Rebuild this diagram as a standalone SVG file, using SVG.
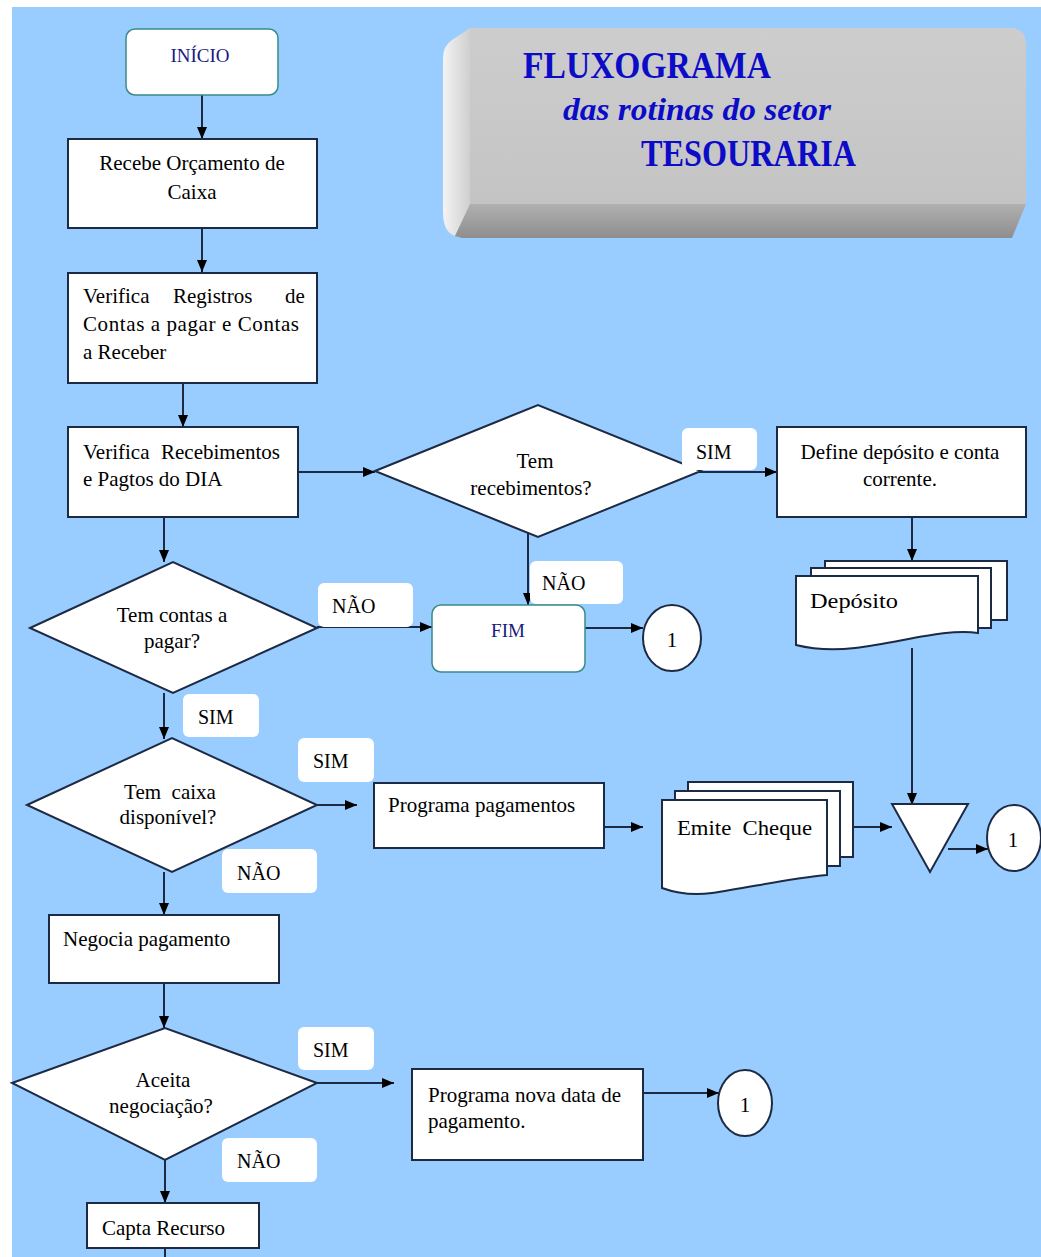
<svg xmlns="http://www.w3.org/2000/svg" width="1041" height="1257" viewBox="0 0 1041 1257">
<defs>
<style>
.box{fill:#fff;stroke:#1c2a44;stroke-width:2}
.term{fill:#fff;stroke:#3a8a8a;stroke-width:1.5}
.t{font-family:"Liberation Serif","Times New Roman",serif;font-size:21px;fill:#000}
.tc{text-anchor:middle}
.lbl{fill:#fff}
.lt{font-family:"Liberation Serif","Times New Roman",serif;font-size:20px;fill:#000}
.nav{font-family:"Liberation Serif","Times New Roman",serif;font-size:19px;fill:#1a1a80;text-anchor:middle}
.title{font-family:"Liberation Serif","Times New Roman",serif;font-weight:bold;fill:#0c0cc8}
.con{stroke:#1c2a44;stroke-width:2;fill:none;marker-end:url(#ah)}
</style>
<marker id="ah" viewBox="0 0 12 10" refX="12" refY="5" markerWidth="6" markerHeight="5" orient="auto" markerUnits="strokeWidth">
<path d="M0,0 L12,5 L0,10 Z" fill="#000"/>
</marker>
<linearGradient id="leftFace" x1="0" y1="0" x2="1" y2="0">
<stop offset="0" stop-color="#f4f4f4"/>
<stop offset="1" stop-color="#cfcfcf"/>
</linearGradient>
<linearGradient id="bottomFace" x1="0" y1="0" x2="0" y2="1">
<stop offset="0" stop-color="#b0b0b0"/>
<stop offset="1" stop-color="#8e8e8e"/>
</linearGradient>
<linearGradient id="frontFace" x1="0" y1="0" x2="0" y2="1">
<stop offset="0" stop-color="#cdcdcd"/>
<stop offset="1" stop-color="#c4c4c4"/>
</linearGradient>
</defs>

<rect x="0" y="0" width="1041" height="1257" fill="#ffffff"/>
<rect x="12" y="7" width="1029" height="1250" fill="#99CCFF"/>

<g id="title">
<path d="M443,212 L443,58 Q443,46 452,40 L470,28 L470,206 L455,236 Q443,232 443,212 Z" fill="url(#leftFace)"/>
<path d="M455,236 L470,204 L1026,204 L1012,238 L462,238 Z" fill="url(#bottomFace)"/>
<path d="M470,28 L1010,28 Q1026,28 1026,44 L1026,204 L470,204 Z" fill="url(#frontFace)"/>
<text class="title" x="523" y="78" font-size="37" textLength="248" lengthAdjust="spacingAndGlyphs">FLUXOGRAMA</text>
<text class="title" x="563" y="120" font-size="32" font-style="italic" textLength="268" lengthAdjust="spacingAndGlyphs">das rotinas do setor</text>
<text class="title" x="641" y="166" font-size="37" textLength="215" lengthAdjust="spacingAndGlyphs">TESOURARIA</text>
</g>

<g id="connectors">
<line class="con" x1="202" y1="95" x2="202" y2="139"/>
<line class="con" x1="202" y1="228" x2="202" y2="272"/>
<line class="con" x1="183" y1="383" x2="183" y2="427"/>
<line class="con" x1="298" y1="472" x2="375" y2="472"/>
<line class="con" x1="697" y1="472" x2="777" y2="472"/>
<line class="con" x1="528" y1="529" x2="528" y2="605"/>
<line class="con" x1="585" y1="628" x2="643" y2="628"/>
<line class="con" x1="912" y1="517" x2="912" y2="561"/>
<line class="con" x1="912" y1="648" x2="912" y2="805"/>
<line class="con" x1="164" y1="517" x2="164" y2="562"/>
<line class="con" x1="317" y1="627" x2="432" y2="627"/>
<line class="con" x1="164" y1="693" x2="164" y2="739"/>
<line class="con" x1="317" y1="805" x2="357" y2="805"/>
<line class="con" x1="604" y1="827" x2="643" y2="827"/>
<line class="con" x1="853" y1="827" x2="892" y2="827"/>
<line class="con" x1="948" y1="849" x2="988" y2="849"/>
<line class="con" x1="164" y1="872" x2="164" y2="915"/>
<line class="con" x1="164" y1="983" x2="164" y2="1028"/>
<line class="con" x1="317" y1="1083" x2="394" y2="1083"/>
<line class="con" x1="643" y1="1093" x2="719" y2="1093"/>
<line class="con" x1="165" y1="1160" x2="165" y2="1203"/>
<line x1="165" y1="1248" x2="165" y2="1257" stroke="#1c2a44" stroke-width="2"/>
</g>

<g id="inicio">
<rect class="term" x="126" y="29" width="152" height="66" rx="9"/>
<text class="nav" x="200" y="62">INÍCIO</text>
</g>

<g id="recebe-orcamento">
<rect class="box" x="68" y="139" width="249" height="89"/>
<text class="t tc" x="192" y="170">Recebe Orçamento de</text>
<text class="t tc" x="192" y="199">Caixa</text>
</g>

<g id="verifica-registros">
<rect class="box" x="68" y="273" width="249" height="110"/>
<text class="t"><tspan x="83" y="303">Verifica</tspan><tspan x="173" y="303">Registros</tspan><tspan x="285" y="303">de</tspan></text>
<text class="t" x="83" y="331" textLength="216" lengthAdjust="spacing">Contas a pagar e Contas</text>
<text class="t" x="83" y="359">a Receber</text>
</g>

<g id="verifica-recebimentos">
<rect class="box" x="68" y="427" width="230" height="90"/>
<text class="t"><tspan x="83" y="459">Verifica</tspan><tspan x="161" y="459">Recebimentos</tspan></text>
<text class="t" x="83" y="486">e Pagtos do DIA</text>
</g>

<g id="tem-recebimentos">
<polygon class="box" points="375,471 538,405 701,471 538,537"/>
<text class="t tc" x="535" y="468">Tem</text>
<text class="t tc" x="531" y="495">recebimentos?</text>
</g>

<g id="define-deposito">
<rect class="box" x="777" y="427" width="249" height="90"/>
<text class="t tc" x="900" y="459">Define depósito e conta</text>
<text class="t tc" x="900" y="486">corrente.</text>
</g>

<g id="deposito">
<rect class="box" x="825" y="561" width="182" height="59"/>
<rect class="box" x="811" y="568" width="180" height="60"/>
<path class="box" d="M796,576 H978 V633 C945,628 900,643 855,648 C828,651 808,648 796,645 Z"/>
<text class="t" x="810" y="608" font-size="24" textLength="88" lengthAdjust="spacingAndGlyphs">Depósito</text>
</g>

<g id="fim">
<rect class="term" x="432" y="605" width="153" height="67" rx="9"/>
<text class="nav" x="508" y="637">FIM</text>
</g>

<g id="conector-1a">
<ellipse cx="672" cy="638" rx="29" ry="33" fill="#fff" stroke="#1c2a44" stroke-width="2"/>
<text class="t tc" x="672" y="647" font-size="25">1</text>
</g>

<g id="tem-contas">
<polygon class="box" points="30,628 173,562 317,628 173,693"/>
<text class="t tc" x="172" y="622">Tem contas a</text>
<text class="t tc" x="172" y="648">pagar?</text>
</g>

<g id="tem-caixa">
<polygon class="box" points="27,805 172,738 317,805 172,872"/>
<text class="t tc" x="170" y="799" xml:space="preserve">Tem  caixa</text>
<text class="t tc" x="168" y="824">disponível?</text>
</g>

<g id="programa-pagamentos">
<rect class="box" x="374" y="783" width="230" height="65"/>
<text class="t" x="388" y="812">Programa pagamentos</text>
</g>

<g id="emite-cheque">
<rect class="box" x="688" y="782" width="165" height="75"/>
<rect class="box" x="675" y="791" width="165" height="75"/>
<path class="box" d="M662,800 H827 V875 C790,878 748,888 712,893 C690,896 673,892 662,888 Z"/>
<text class="t" x="677" y="835" font-size="24" textLength="135" lengthAdjust="spacingAndGlyphs" xml:space="preserve">Emite  Cheque</text>
</g>

<g id="conector-triangulo">
<polygon class="box" points="892,804 968,804 930,872"/>
</g>

<g id="conector-1b">
<ellipse cx="1014" cy="838" rx="27" ry="33" fill="#fff" stroke="#1c2a44" stroke-width="2"/>
<text class="t tc" x="1013" y="847" font-size="25">1</text>
</g>

<g id="negocia">
<rect class="box" x="49" y="915" width="230" height="68"/>
<text class="t" x="63" y="946">Negocia pagamento</text>
</g>

<g id="aceita">
<polygon class="box" points="12,1083 165,1028 317,1083 165,1160"/>
<text class="t tc" x="163" y="1087">Aceita</text>
<text class="t tc" x="161" y="1113">negociação?</text>
</g>

<g id="programa-nova-data">
<rect class="box" x="412" y="1069" width="231" height="91"/>
<text class="t" x="428" y="1102">Programa nova data de</text>
<text class="t" x="428" y="1128">pagamento.</text>
</g>

<g id="conector-1c">
<ellipse cx="745" cy="1103" rx="27" ry="33" fill="#fff" stroke="#1c2a44" stroke-width="2"/>
<text class="t tc" x="745" y="1112" font-size="25">1</text>
</g>

<g id="capta-recurso">
<rect class="box" x="87" y="1203" width="172" height="45"/>
<text class="t" x="102" y="1235">Capta Recurso</text>
</g>

<g id="labels">
<rect class="lbl" x="682" y="428" width="75" height="42" rx="6"/>
<text class="lt" x="696" y="459">SIM</text>
<rect class="lbl" x="530" y="561" width="93" height="43" rx="6"/>
<text class="lt" x="542" y="590">NÃO</text>
<rect class="lbl" x="318" y="583" width="95" height="44" rx="6"/>
<text class="lt" x="332" y="613">NÃO</text>
<rect class="lbl" x="183" y="694" width="76" height="43" rx="6"/>
<text class="lt" x="198" y="724">SIM</text>
<rect class="lbl" x="298" y="738" width="76" height="44" rx="6"/>
<text class="lt" x="313" y="768">SIM</text>
<rect class="lbl" x="222" y="849" width="95" height="44" rx="6"/>
<text class="lt" x="237" y="880">NÃO</text>
<rect class="lbl" x="298" y="1027" width="76" height="43" rx="6"/>
<text class="lt" x="313" y="1057">SIM</text>
<rect class="lbl" x="222" y="1138" width="95" height="44" rx="6"/>
<text class="lt" x="237" y="1168">NÃO</text>
</g>
</svg>
